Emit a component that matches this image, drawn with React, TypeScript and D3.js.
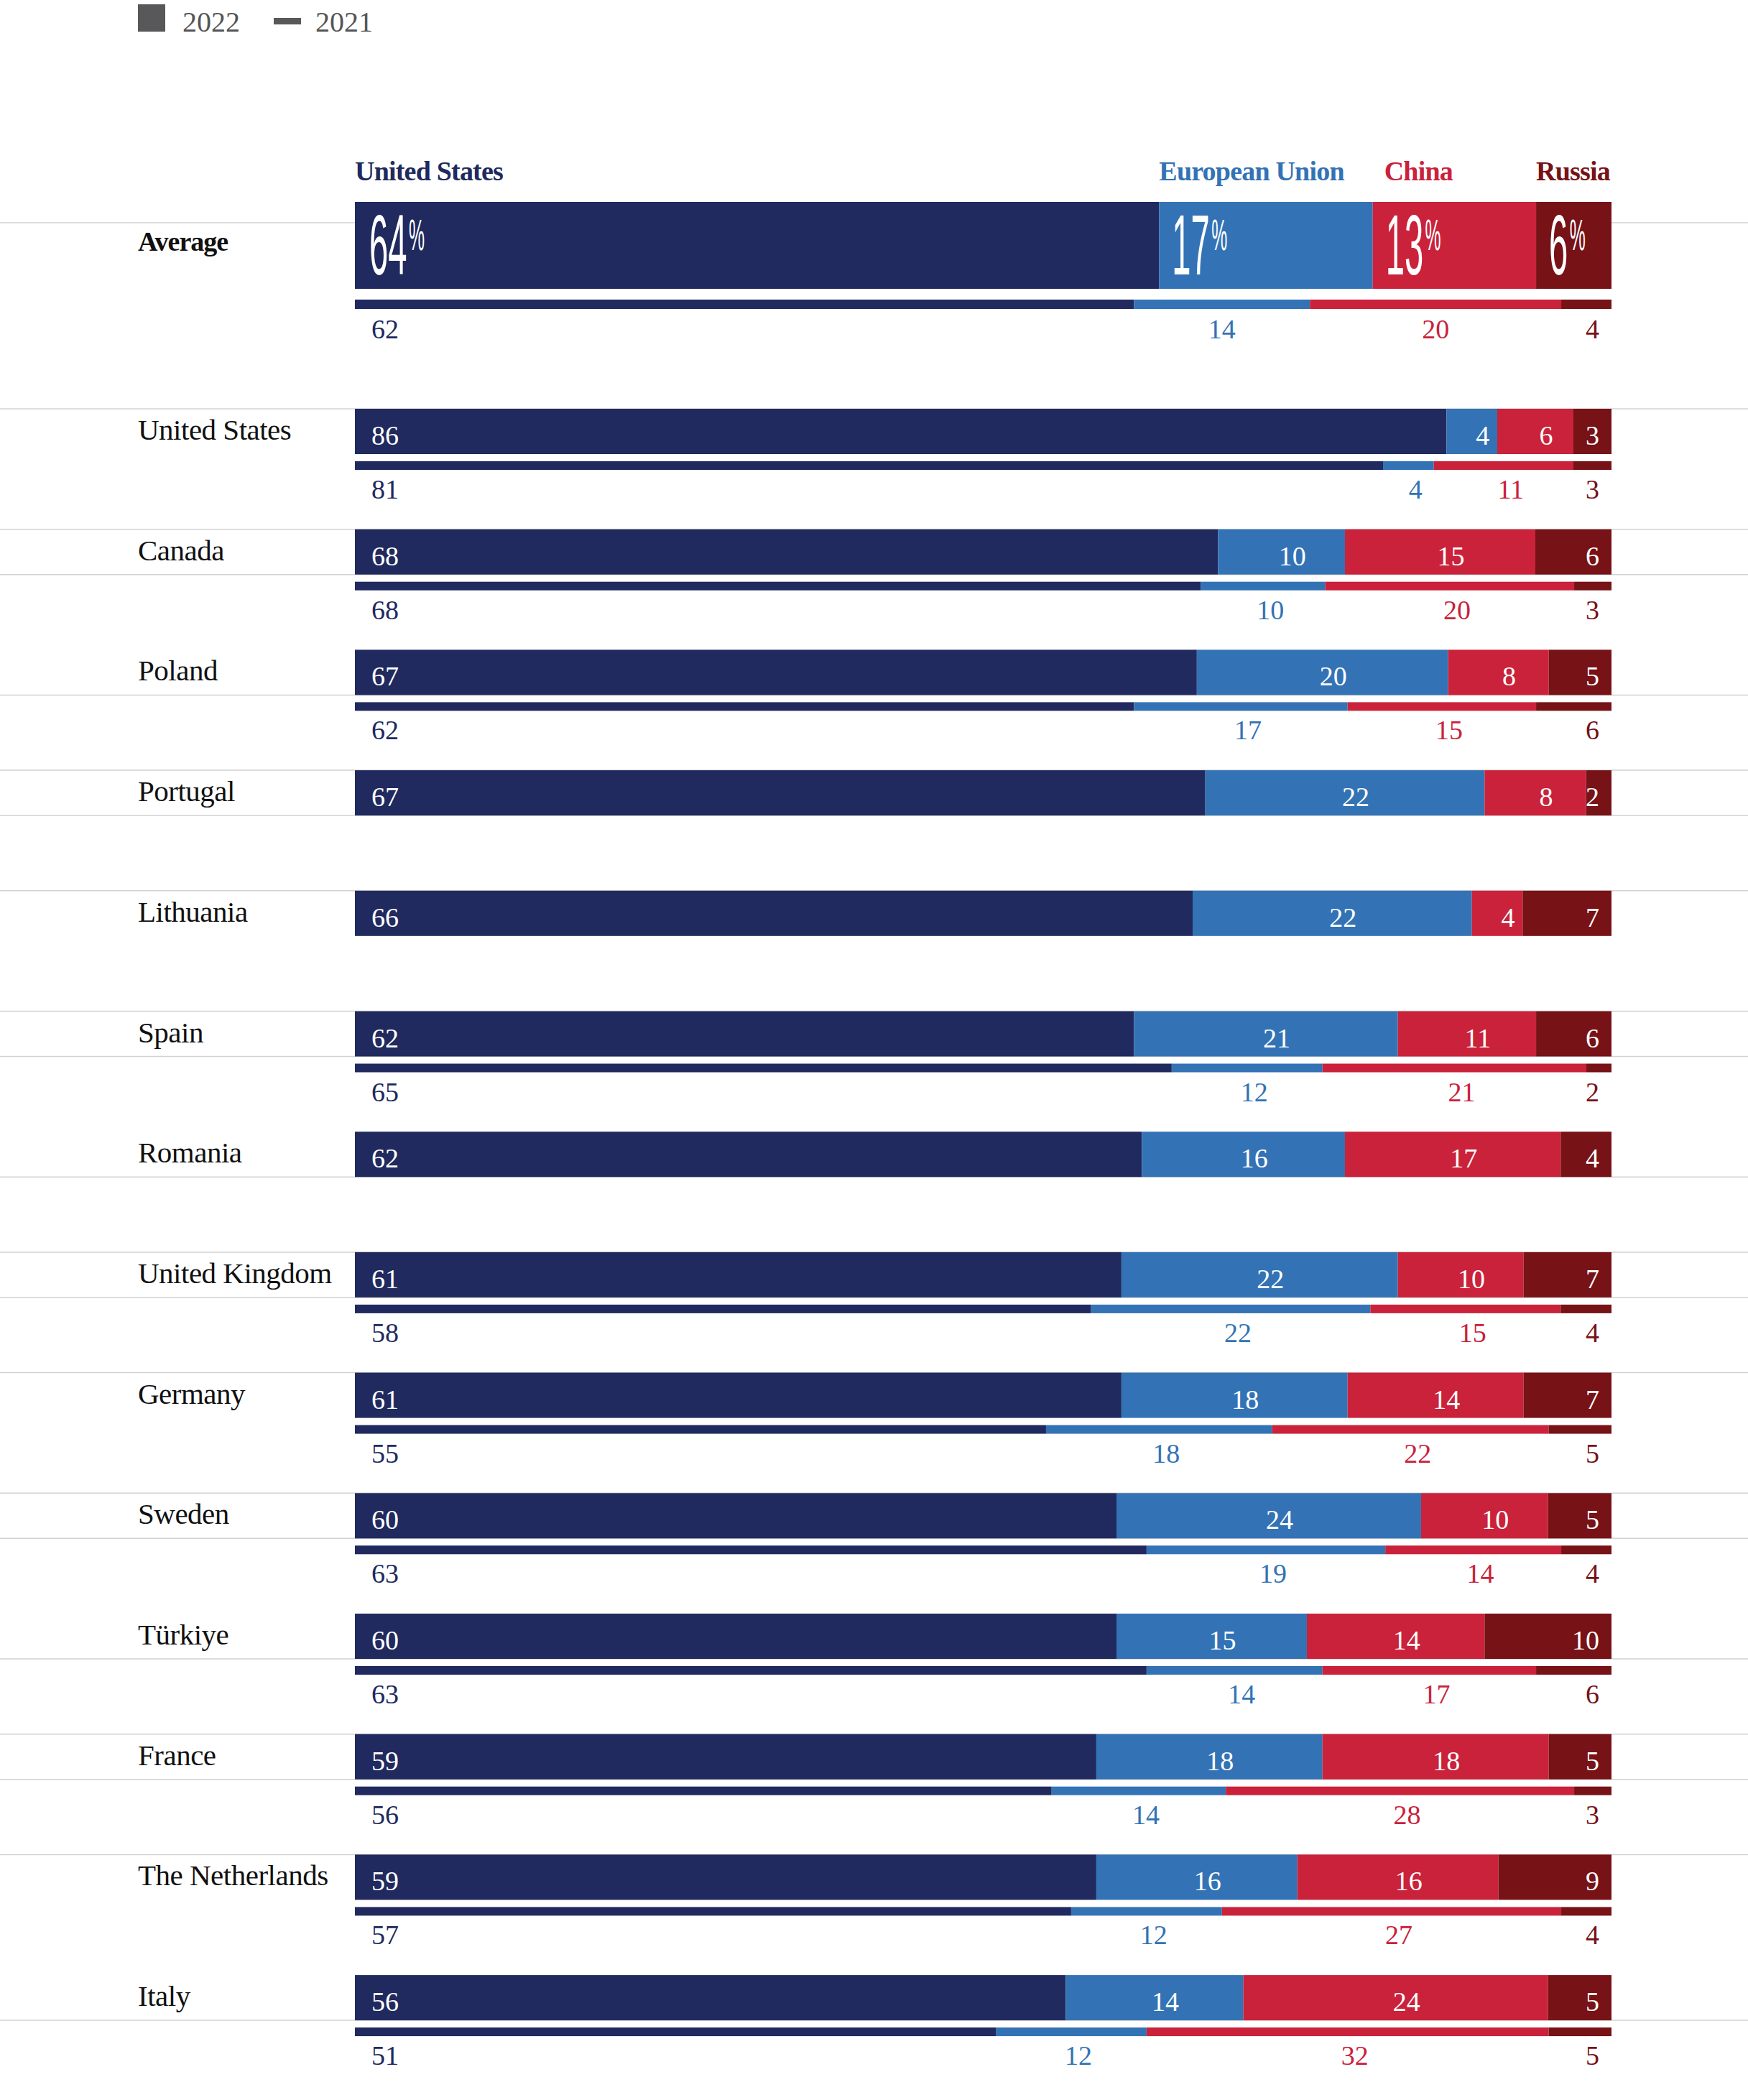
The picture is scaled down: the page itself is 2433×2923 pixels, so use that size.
import React from "react";
import * as d3 from "d3";

// categories
const countries = [
  "United States",
  "Canada",
  "Poland",
  "Portugal",
  "Lithuania",
  "Spain",
  "Romania",
  "United Kingdom",
  "Germany",
  "Sweden",
  "Türkiye",
  "France",
  "The Netherlands",
  "Italy",
];
const powers = ["United States", "European Union", "China", "Russia"];
const legendLabels = ["2022", "2021"];
const averageLabel = "Average";

// 2022 shares, per country
const us2022 = [86, 68, 67, 67, 66, 62, 62, 61, 61, 60, 60, 59, 59, 56];
const eu2022 = [4, 10, 20, 22, 22, 21, 16, 22, 18, 24, 15, 18, 16, 14];
const cn2022 = [6, 15, 8, 8, 4, 11, 17, 10, 14, 10, 14, 18, 16, 24];
const ru2022 = [3, 6, 5, 2, 7, 6, 4, 7, 7, 5, 10, 5, 9, 5];

// 2021 shares (null = not surveyed)
const us2021 = [81, 68, 62, null, null, 65, null, 58, 55, 63, 63, 56, 57, 51];
const eu2021 = [4, 10, 17, null, null, 12, null, 22, 18, 19, 14, 14, 12, 12];
const cn2021 = [11, 20, 15, null, null, 21, null, 15, 22, 14, 17, 28, 27, 32];
const ru2021 = [3, 3, 6, null, null, 2, null, 4, 5, 4, 6, 3, 4, 5];

// averages
const average2022 = [64, 17, 13, 6];
const average2021 = [62, 14, 20, 4];

const colors = ["#202a5e", "#3373b5", "#ca223a", "#771217"];
const W = 2433;
const H = 2923;
const barX0 = 494;
const barX1 = 2243;
const serif = "'Liberation Serif', 'Times New Roman', serif";
const sans = "'Liberation Sans', Arial, sans-serif";
const gridColor = "#d2d2d2";

type Seg = { v: number; i: number; x0: number; x1: number };

function segments(vals: number[]): Seg[] {
  const x = d3.scaleLinear().domain([0, d3.sum(vals)]).range([barX0, barX1]);
  const ends = Array.from(d3.cumsum(vals));
  return vals.map((v, i) => ({ v, i, x0: x(ends[i] - v), x1: x(ends[i]) }));
}

// where a value label sits in its segment
function labelPos(s: Seg, shift: number) {
  if (s.i === 0) return { x: s.x0 + 23, anchor: "start" };
  if (s.i === 3) return { x: barX1 - 17, anchor: "end" };
  return { x: (s.x0 + s.x1) / 2 + shift, anchor: "middle" };
}

const rowY = d3
  .scaleBand<string>()
  .domain(countries)
  .range([569, 569 + countries.length * 167.7]);

const bigH = 63;
const thinOff = 73;
const thinH = 12;

const App = () => {
  const avgSegs = segments(average2022);
  const avgSegs21 = segments(average2021);
  const headerPad = [0, 0, 16, 0];

  return (
    <svg
      width={W}
      height={H}
      style={{ position: "absolute", left: 0, top: 0, background: "#fff" }}
    >
      {/* legend */}
      <g fontFamily={serif} fontSize={40} fill="#555">
        <rect x={192} y={6} width={38} height={38} fill="#58585a" />
        <text x={254} y={44}>{legendLabels[0]}</text>
        <rect x={381} y={25} width={38} height={9} fill="#58585a" />
        <text x={439} y={44}>{legendLabels[1]}</text>
      </g>

      {/* headers */}
      <g fontFamily={serif} fontSize={38} fontWeight="bold" letterSpacing={-0.8}>
        {avgSegs.map((s) => (
          <text key={s.i} x={s.x0 + headerPad[s.i]} y={251} fill={colors[s.i]}>
            {powers[s.i]}
          </text>
        ))}
      </g>

      {/* average block */}
      <line x1={0} x2={W} y1={310} y2={310} stroke={gridColor} strokeWidth={1.5} />
      <text
        x={192}
        y={349}
        fontFamily={serif}
        fontSize={38}
        fontWeight="bold"
        letterSpacing={-1}
        fill="#111"
      >
        {averageLabel}
      </text>
      {avgSegs.map((s) => (
        <rect key={s.i} x={s.x0} y={281} width={s.x1 - s.x0} height={121} fill={colors[s.i]} />
      ))}
      {avgSegs.map((s) => (
        <text
          key={"b" + s.i}
          transform={`translate(${s.x0 + (s.i === 0 ? 20 : 18)},382) scale(0.4,1)`}
          fontFamily={sans}
          fontSize={118}
          fill="#fff"
        >
          {s.v}
          <tspan fontSize={62} dx={6} dy={-34}>%</tspan>
        </text>
      ))}
      {avgSegs21.map((s) => (
        <rect key={"t" + s.i} x={s.x0} y={417} width={s.x1 - s.x0} height={13} fill={colors[s.i]} />
      ))}
      {avgSegs21.map((s) => {
        const p = labelPos(s, 0);
        return (
          <text
            key={"l" + s.i}
            x={p.x}
            y={471}
            textAnchor={p.anchor}
            fontFamily={serif}
            fontSize={38}
            fill={colors[s.i]}
          >
            {s.v}
          </text>
        );
      })}

      {/* country rows */}
      {countries.map((c, r) => {
        const top = rowY(c)!;
        const segs = segments([us2022[r], eu2022[r], cn2022[r], ru2022[r]]);
        const has21 = us2021[r] !== null;
        const segs21 = has21
          ? segments([us2021[r]!, eu2021[r]!, cn2021[r]!, ru2021[r]!])
          : [];
        const showTop = r % 4 !== 2 && r < countries.length - 1;
        const showBottom = r % 4 !== 0;
        return (
          <g key={c}>
            {showTop && (
              <line x1={0} x2={W} y1={top} y2={top} stroke={gridColor} strokeWidth={1.5} />
            )}
            {showBottom && (
              <line x1={0} x2={W} y1={top + bigH} y2={top + bigH} stroke={gridColor} strokeWidth={1.5} />
            )}
            <text
              x={192}
              y={top + 43}
              fontFamily={serif}
              fontSize={41}
              letterSpacing={-0.5}
              fill="#111"
            >
              {c}
            </text>
            {segs.map((s) => (
              <rect key={s.i} x={s.x0} y={top} width={s.x1 - s.x0} height={bigH} fill={colors[s.i]} />
            ))}
            {segs.map((s) => {
              const p = labelPos(s, 15);
              return (
                <text
                  key={"v" + s.i}
                  x={p.x}
                  y={top + 50}
                  textAnchor={p.anchor}
                  fontFamily={serif}
                  fontSize={38}
                  fill="#fff"
                >
                  {s.v}
                </text>
              );
            })}
            {segs21.map((s) => (
              <rect
                key={"t" + s.i}
                x={s.x0}
                y={top + thinOff}
                width={s.x1 - s.x0}
                height={thinH}
                fill={colors[s.i]}
              />
            ))}
            {segs21.map((s) => {
              const p = labelPos(s, 10);
              return (
                <text
                  key={"w" + s.i}
                  x={p.x}
                  y={top + 125}
                  textAnchor={p.anchor}
                  fontFamily={serif}
                  fontSize={38}
                  fill={colors[s.i]}
                >
                  {s.v}
                </text>
              );
            })}
          </g>
        );
      })}
    </svg>
  );
};

export default App;
